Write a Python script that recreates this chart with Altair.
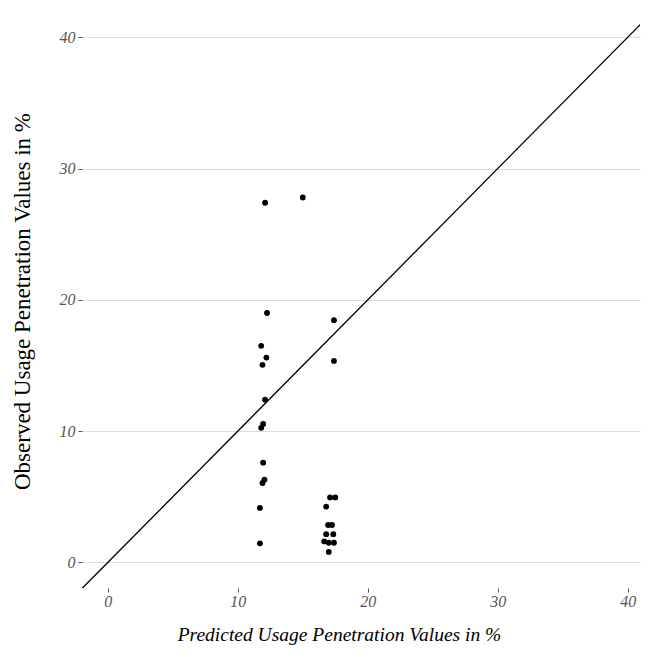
import altair as alt
import pandas as pd

predicted = [12.1, 15.0, 12.25, 17.4, 11.8, 12.2, 11.9, 17.4, 12.1, 11.95, 11.8, 11.95,
             12.05, 11.9, 11.7, 11.7, 17.1, 17.5, 16.8, 16.95, 17.25, 16.8, 17.35,
             16.65, 17.0, 17.4, 17.0]
observed = [27.4, 27.8, 19.0, 18.45, 16.5, 15.6, 15.05, 15.35, 12.4, 10.55, 10.25, 7.6,
            6.3, 6.05, 4.15, 1.45, 4.95, 4.95, 4.25, 2.85, 2.85, 2.15, 2.15,
            1.6, 1.5, 1.5, 0.8]
line_vals = [-5, 45]
x_ticks = [0, 10, 20, 30, 40]
y_ticks = [0, 10, 20, 30, 40]

pts = pd.DataFrame({"pred": predicted, "obs": observed})
ln = pd.DataFrame({"pred": line_vals, "obs": line_vals})

xs = alt.Scale(domain=[-1.99, 40.95], nice=False, zero=False)
ys = alt.Scale(domain=[-1.95, 41.7], nice=False, zero=False)

tick_font = "Liberation Serif"

xax = alt.Axis(values=x_ticks, grid=False, domain=False, ticks=True, tickColor="#555555",
               tickSize=4, labelFont=tick_font, labelFontStyle="italic",
               labelFontSize=16, labelColor="#555555", labelPadding=1,
               title="Predicted Usage Penetration Values in %", titleFont="Liberation Serif",
               titleFontStyle="italic", titleFontWeight="normal", titleFontSize=19.5,
               titleColor="#000000", titleX=257, titleY=46, titleBaseline="middle",
               titleAlign="center")
yax = alt.Axis(values=y_ticks, grid=True, gridColor="#dcdcdc", gridWidth=1, domain=False,
               ticks=True, tickColor="#555555", tickSize=4, labelFont=tick_font,
               labelFontStyle="italic", labelFontSize=16, labelColor="#555555",
               labelPadding=3, title="Observed Usage Penetration Values in %",
               titleFont="Liberation Serif", titleFontWeight="normal", titleFontSize=23,
               titleColor="#000000", titleX=-60, titleY=286, titleBaseline="middle",
               titleAlign="center", titleAngle=270)

points = alt.Chart(pts).mark_circle(color="black", size=34, opacity=1).encode(
    x=alt.X("pred:Q", scale=xs, axis=xax),
    y=alt.Y("obs:Q", scale=ys, axis=yax),
)
line = alt.Chart(ln).mark_line(color="black", strokeWidth=1.3, clip=True).encode(
    x=alt.X("pred:Q", scale=xs),
    y=alt.Y("obs:Q", scale=ys),
)

chart = alt.layer(line, points).properties(
    width=558, height=573,
    autosize=alt.AutoSizeParams(type="none"),
    padding={"left": 74, "top": 7, "right": 2, "bottom": 60},
).configure(background="white").configure_view(strokeWidth=0, stroke="transparent")

chart.save("out.html", embed_options={"renderer": "svg", "actions": False})
